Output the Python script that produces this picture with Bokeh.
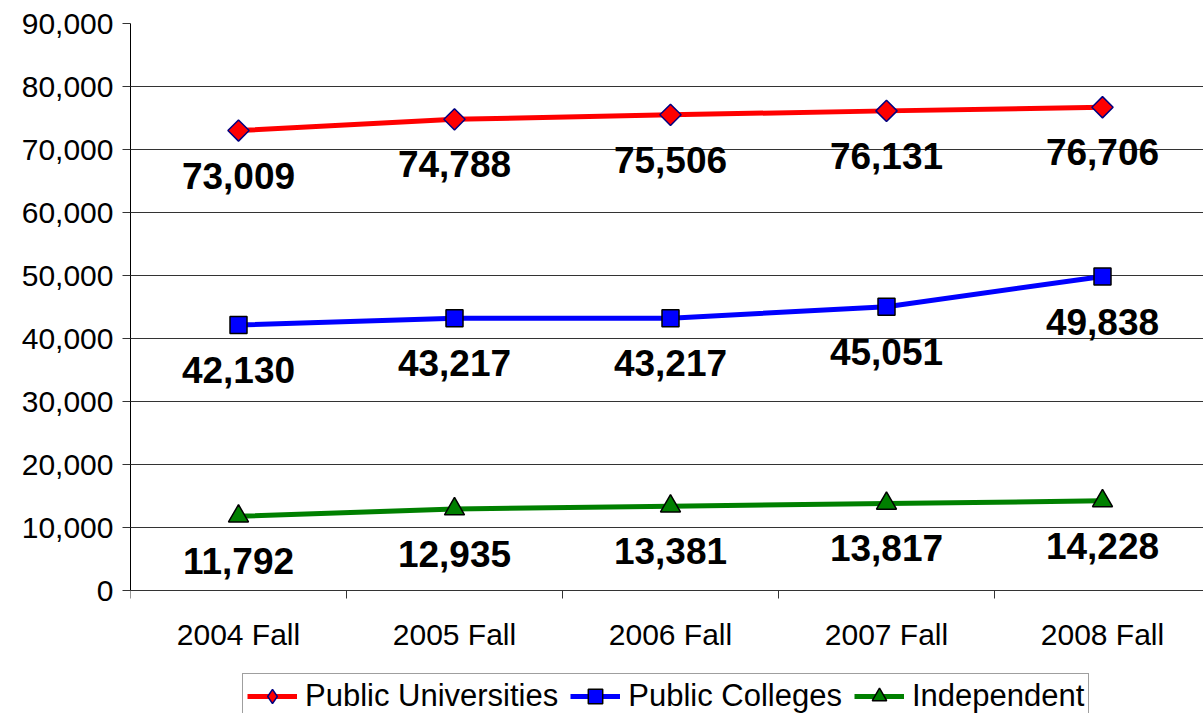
import math
from bokeh.plotting import figure
from bokeh.models import Range1d, FixedTicker, NumeralTickFormatter, Legend, LegendItem
from bokeh.core.properties import value
from bokeh.embed import file_html
from bokeh.resources import INLINE

categories = ["2004 Fall", "2005 Fall", "2006 Fall", "2007 Fall", "2008 Fall"]
public_universities = [73009, 74788, 75506, 76131, 76706]
public_colleges = [42130, 43217, 43217, 45051, 49838]
independent = [11792, 12935, 13381, 13817, 14228]
y_ticks = [0, 10000, 20000, 30000, 40000, 50000, 60000, 70000, 80000, 90000]

FONT = "Liberation Sans"
xs = list(range(len(categories)))

W, H = 1203, 713
LEFT, TOP, ZERO_Y = 130, 23, 590
YMAX = 90000
ymin = -(H - ZERO_Y) * YMAX / (ZERO_Y - TOP)

p = figure(width=W, height=H, output_backend="svg", toolbar_location=None,
           x_range=Range1d(-0.5, -0.5 + (W - LEFT) / 216), y_range=Range1d(ymin, YMAX),
           min_border_left=LEFT, min_border_right=0, min_border_top=TOP,
           min_border_bottom=0)
p.outline_line_color = None
p.background_fill_color = "white"
p.border_fill_color = "white"

# x axis (placed at y = 0)
p.xaxis.fixed_location = 0
p.xaxis.ticker = FixedTicker(ticks=xs, minor_ticks=[i - 0.5 for i in range(len(categories) + 1)])
p.xaxis.major_label_overrides = {i: c for i, c in enumerate(categories)}
p.xaxis.major_tick_line_color = None
p.xaxis.major_tick_out = 0
p.xaxis.major_tick_in = 0
p.xaxis.minor_tick_out = 8
p.xaxis.minor_tick_in = 0
p.xaxis.minor_tick_line_color = "#333333"
p.xaxis.major_label_standoff = 19
p.xaxis.major_label_text_font = FONT
p.xaxis.major_label_text_font_size = "30px"
p.xaxis.major_label_text_color = "black"
p.xaxis.axis_line_color = "#333333"
p.xgrid.visible = False

# y axis
p.yaxis.bounds = (0, YMAX)
p.yaxis.ticker = FixedTicker(ticks=y_ticks)
p.yaxis.formatter = NumeralTickFormatter(format="0,0")
p.yaxis.major_tick_out = 8
p.yaxis.major_tick_in = 0
p.yaxis.major_tick_line_color = "#333333"
p.yaxis.minor_tick_line_color = None
p.yaxis.major_label_standoff = 9
p.yaxis.major_label_text_font = FONT
p.yaxis.major_label_text_font_size = "30px"
p.yaxis.major_label_text_color = "black"
p.yaxis.axis_line_color = "black"
p.ygrid.ticker = FixedTicker(ticks=y_ticks)
p.ygrid.grid_line_color = "#333333"
p.ygrid.grid_line_width = 1

series = [
    ("Public Universities", public_universities, "#FF0000", "square", 15, math.pi / 4, "#000080"),
    ("Public Colleges", public_colleges, "#0000FF", "square", 17, 0, "black"),
    ("Independent", independent, "#008000", "triangle", 20, 0, "black"),
]

items = []
for name, vals, color, marker, size, angle, outline in series:
    lr = p.line(xs, vals, line_color=color, line_width=5)
    legend_marker = None
    if angle:
        # plain diamond under the rotated square, used as the legend symbol
        legend_marker = p.scatter(xs, vals, marker="diamond", size=14,
                                  fill_color=color, line_color=outline, line_width=1.5)
    sr = p.scatter(xs, vals, marker=marker, size=size, angle=angle,
                   fill_color=color, line_color=outline, line_width=1.5)
    p.text(x=xs, y=vals, text=[f"{v:,}" for v in vals],
           text_font=value(FONT), text_font_style="bold", text_font_size="37px",
           text_align="center", text_baseline="middle", y_offset=45, text_color="black")
    items.append(LegendItem(label=name, renderers=[lr, legend_marker or sr]))

legend = Legend(items=items, orientation="horizontal", location=(112, -6),
                label_text_font=FONT, label_text_font_size="31px", label_text_color="black",
                glyph_width=50, glyph_height=36, label_standoff=8, spacing=12,
                padding=4, margin=0, border_line_color="#404040", border_line_width=1,
                background_fill_color="white", background_fill_alpha=1.0)
p.add_layout(legend)

open("out.html", "w").write(file_html(p, INLINE))
